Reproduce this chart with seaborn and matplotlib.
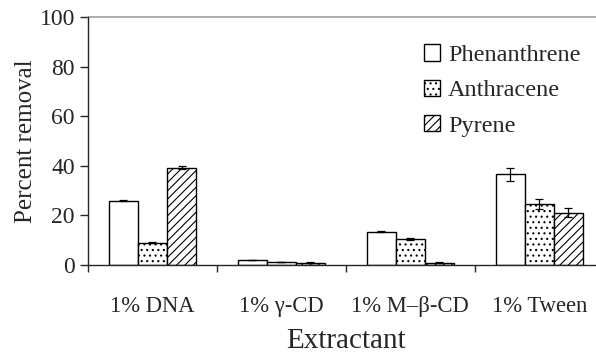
import pandas as pd
import seaborn as sns
import matplotlib.pyplot as plt
from matplotlib.ticker import FixedLocator

extractants = ["1% DNA", "1% γ-CD", "1% M–β-CD", "1% Tween"]
compounds = ["Phenanthrene", "Anthracene", "Pyrene"]
phenanthrene = [26.0, 2.0, 13.5, 36.5]
anthracene = [9.0, 1.2, 10.5, 24.5]
pyrene = [39.3, 1.0, 1.0, 21.0]
phen_err = [0.3, 0.1, 0.1, 2.8]
anth_err = [0.3, 0.1, 0.3, 2.0]
pyr_err = [0.5, 0.1, 0.1, 1.8]

rows = []
for comp, vals, errs in zip(compounds, [phenanthrene, anthracene, pyrene],
                            [phen_err, anth_err, pyr_err]):
    for ext, v, e in zip(extractants, vals, errs):
        rows.append({"Extractant": ext, "Compound": comp, "value": v, "err": e})
df = pd.DataFrame(rows)

sns.set_style("ticks")
plt.rcParams["font.family"] = ["Liberation Serif", "DejaVu Serif"]
plt.rcParams["hatch.linewidth"] = 0.8

fig = plt.figure(figsize=(5.96, 3.54), dpi=100)
ax = fig.add_axes([0.1477, 0.2514, 0.8653, 0.7006])

sns.barplot(data=df, x="Extractant", y="value", hue="Compound", order=extractants,
            hue_order=compounds, palette=["white"] * 3, errorbar=None,
            width=0.675, edgecolor="black", linewidth=1.0, ax=ax)

hatches = ["", "...", "////"]
bar_containers = list(ax.containers)
for i, cont in enumerate(bar_containers):
    for patch in cont.patches:
        patch.set_hatch(hatches[i])
        patch.set_edgecolor("black")
    sub = df[df["Compound"] == compounds[i]]
    xs = [p.get_x() + p.get_width() / 2 for p in cont.patches]
    ax.errorbar(xs, sub["value"], yerr=sub["err"], fmt="none", ecolor="black",
                elinewidth=0.9, capsize=3, capthick=0.9)

ax.axhline(100, color="#a0a0a0", linewidth=1.2, clip_on=False)
ax.set_xlim(-0.5, 3.5)
ax.set_ylim(0, 100)
ax.set_yticks([0, 20, 40, 60, 80, 100])
ax.tick_params(axis="y", labelsize=17, length=5.5, width=1, direction="out", pad=4)
ax.tick_params(axis="x", which="major", length=0, labelsize=16.3, pad=22)
ax.xaxis.set_minor_locator(FixedLocator([-0.5, 0.5, 1.5, 2.5]))
ax.tick_params(axis="x", which="minor", length=5, width=1, direction="out")
for s in ["top", "right"]:
    ax.spines[s].set_visible(False)
ax.spines["left"].set_linewidth(1.0)
ax.spines["bottom"].set_linewidth(1.0)

ax.set_ylabel("Percent removal", fontsize=18, labelpad=2)
ax.set_xlabel("Extractant", fontsize=21, labelpad=8)

leg = ax.legend(loc="upper left", bbox_to_anchor=(0.651, 0.89), frameon=False,
                fontsize=17.5, handlelength=0.66, handleheight=0.66,
                handletextpad=0.33, labelspacing=0.56, borderaxespad=0,
                borderpad=0)
for h, hatch in zip(leg.get_patches(), hatches):
    h.set_hatch(hatch)
    h.set_edgecolor("black")

fig.savefig("out.png", dpi=100)
